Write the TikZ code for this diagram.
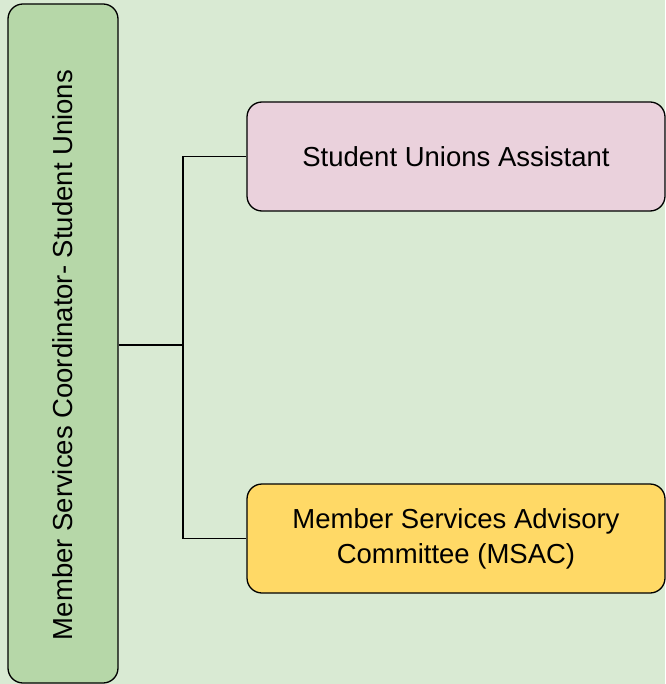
\documentclass[tikz,border=0pt]{standalone}
\usepackage{fontspec}
\setmainfont{Liberation Sans}
\usetikzlibrary{positioning}
\definecolor{bgGreen}{HTML}{D9EAD3}
\definecolor{coordGreen}{HTML}{B6D7A8}
\definecolor{assistPink}{HTML}{EAD1DC}
\definecolor{msacYellow}{HTML}{FFD966}
\tikzset{
  orgbox/.style={draw=black, line width=1.3pt, rounded corners=15pt, inner sep=0pt, align=center, font=\fontsize{27.5}{35}\selectfont},
  link/.style={draw=black, line width=1.3pt}
}
\begin{document}
\begin{tikzpicture}[x=1pt, y=-1pt]
    \fill [bgGreen] (0,0) rectangle (665,684);
    \useasboundingbox (0,0) rectangle (665,684);
    % boxes
    \node [orgbox, fill=coordGreen, minimum width=110pt, minimum height=679pt] (coord) at (63,343.5) {};
    \node [rotate=90, font=\fontsize{27.5}{35}\selectfont] (coordtxt) at (63,355) {Member Services Coordinator- Student Unions};
    \node [orgbox, fill=assistPink, minimum width=418pt, minimum height=109pt] (assist) at (456,156.5) {Student Unions Assistant};
    \node [orgbox, fill=msacYellow, minimum width=418pt, minimum height=109pt] (msac) at (456,538.5) {Member Services Advisory\\Committee (MSAC)};
    % connectors
    \coordinate (split) at (183,345);
    \draw [link] (coord.east |- split) -- (split);
    \draw [link] (split) |- (assist.west);
    \draw [link] (split) |- (msac.west);
\end{tikzpicture}
\end{document}
